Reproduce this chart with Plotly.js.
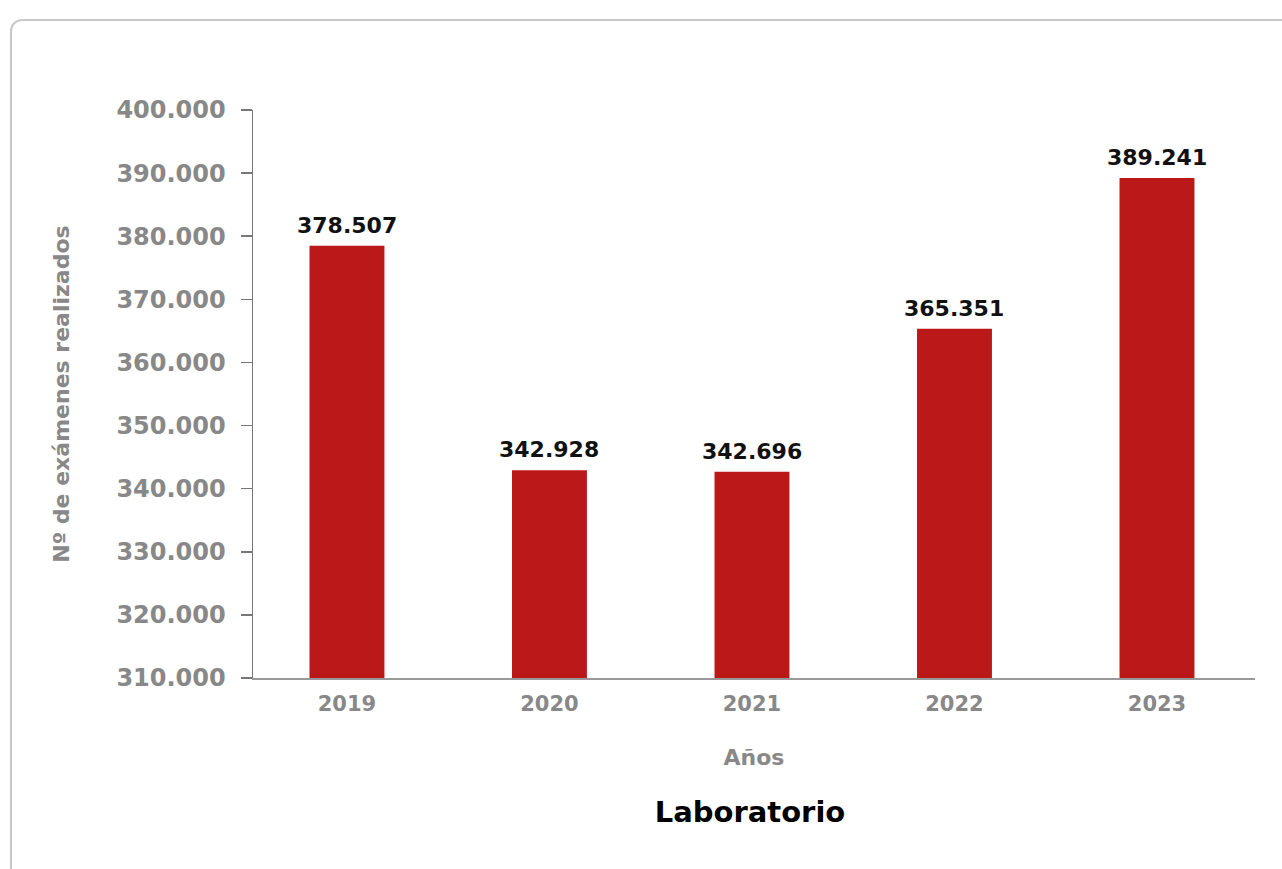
<!DOCTYPE html>
<html>
<head>
<meta charset="utf-8">
<script src="https://cdn.plot.ly/plotly-3.0.1.min.js"></script>
<style>
html,body{margin:0;padding:0;background:#fff;overflow:hidden;}
#frame{position:absolute;left:10px;top:19px;width:1300px;height:900px;border:2px solid #c8c8c8;border-radius:12px;box-sizing:border-box;}
#chart{position:absolute;left:0;top:0;width:1282px;height:869px;}
</style>
</head>
<body>
<div id="frame"></div>
<div id="chart"></div>
<script>
const years = ['2019','2020','2021','2022','2023'];
const exams = [378507, 342928, 342696, 365351, 389241];
const yTicks = [310000,320000,330000,340000,350000,360000,370000,380000,390000,400000];

const FONT = 'DejaVu Sans';
const fmt = v => v.toLocaleString('de-DE');

const trace = {
  type: 'bar',
  x: years,
  y: exams,
  width: 0.37,
  marker: {color: '#BB1919'},
  hoverinfo: 'none'
};

const labels = years.map((yr, i) => ({
  x: i, y: exams[i], xref: 'x', yref: 'y',
  text: '<b>' + fmt(exams[i]) + '</b>',
  showarrow: false, yanchor: 'bottom', yshift: 6,
  font: {family: FONT, size: 22, color: '#111'}
}));

const layout = {
  width: 1282, height: 869,
  paper_bgcolor: 'rgba(0,0,0,0)',
  plot_bgcolor: 'rgba(0,0,0,0)',
  separators: ',.',
  margin: {l: 253, r: 27, t: 110, b: 191},
  showlegend: false,
  title: {
    text: '<b>Laboratorio</b>',
    font: {family: FONT, size: 29, color: '#000'},
    x: 0.585, xanchor: 'center',
    y: 1 - 812/869, yanchor: 'middle', yref: 'container'
  },
  xaxis: {
    type: 'category',
    range: [-0.464, 4.484],
    showline: true, linecolor: '#999', linewidth: 2,
    ticks: '', showgrid: false, zeroline: false,
    ticklabelstandoff: 6,
    tickfont: {family: FONT, size: 21, color: '#888', weight: 700},
    title: {text: '<b>Años</b>', font: {family: FONT, size: 22, color: '#888'}, standoff: 34}
  },
  yaxis: {
    range: [310000, 400000],
    tickvals: yTicks,
    tickformat: ',d',
    showline: true, linecolor: '#777', linewidth: 1.5,
    ticks: 'outside', ticklen: 11, tickcolor: '#777', tickwidth: 1.5,
    ticklabelstandoff: 10,
    showgrid: false, zeroline: false,
    tickfont: {family: FONT, size: 24, color: '#888', weight: 700},
    title: {text: '<b>Nº de exámenes realizados</b>', font: {family: FONT, size: 22, color: '#888'}, standoff: 40}
  },
  annotations: labels
};

Plotly.newPlot('chart', [trace], layout, {displayModeBar: false, staticPlot: true});
</script>
</body>
</html>
